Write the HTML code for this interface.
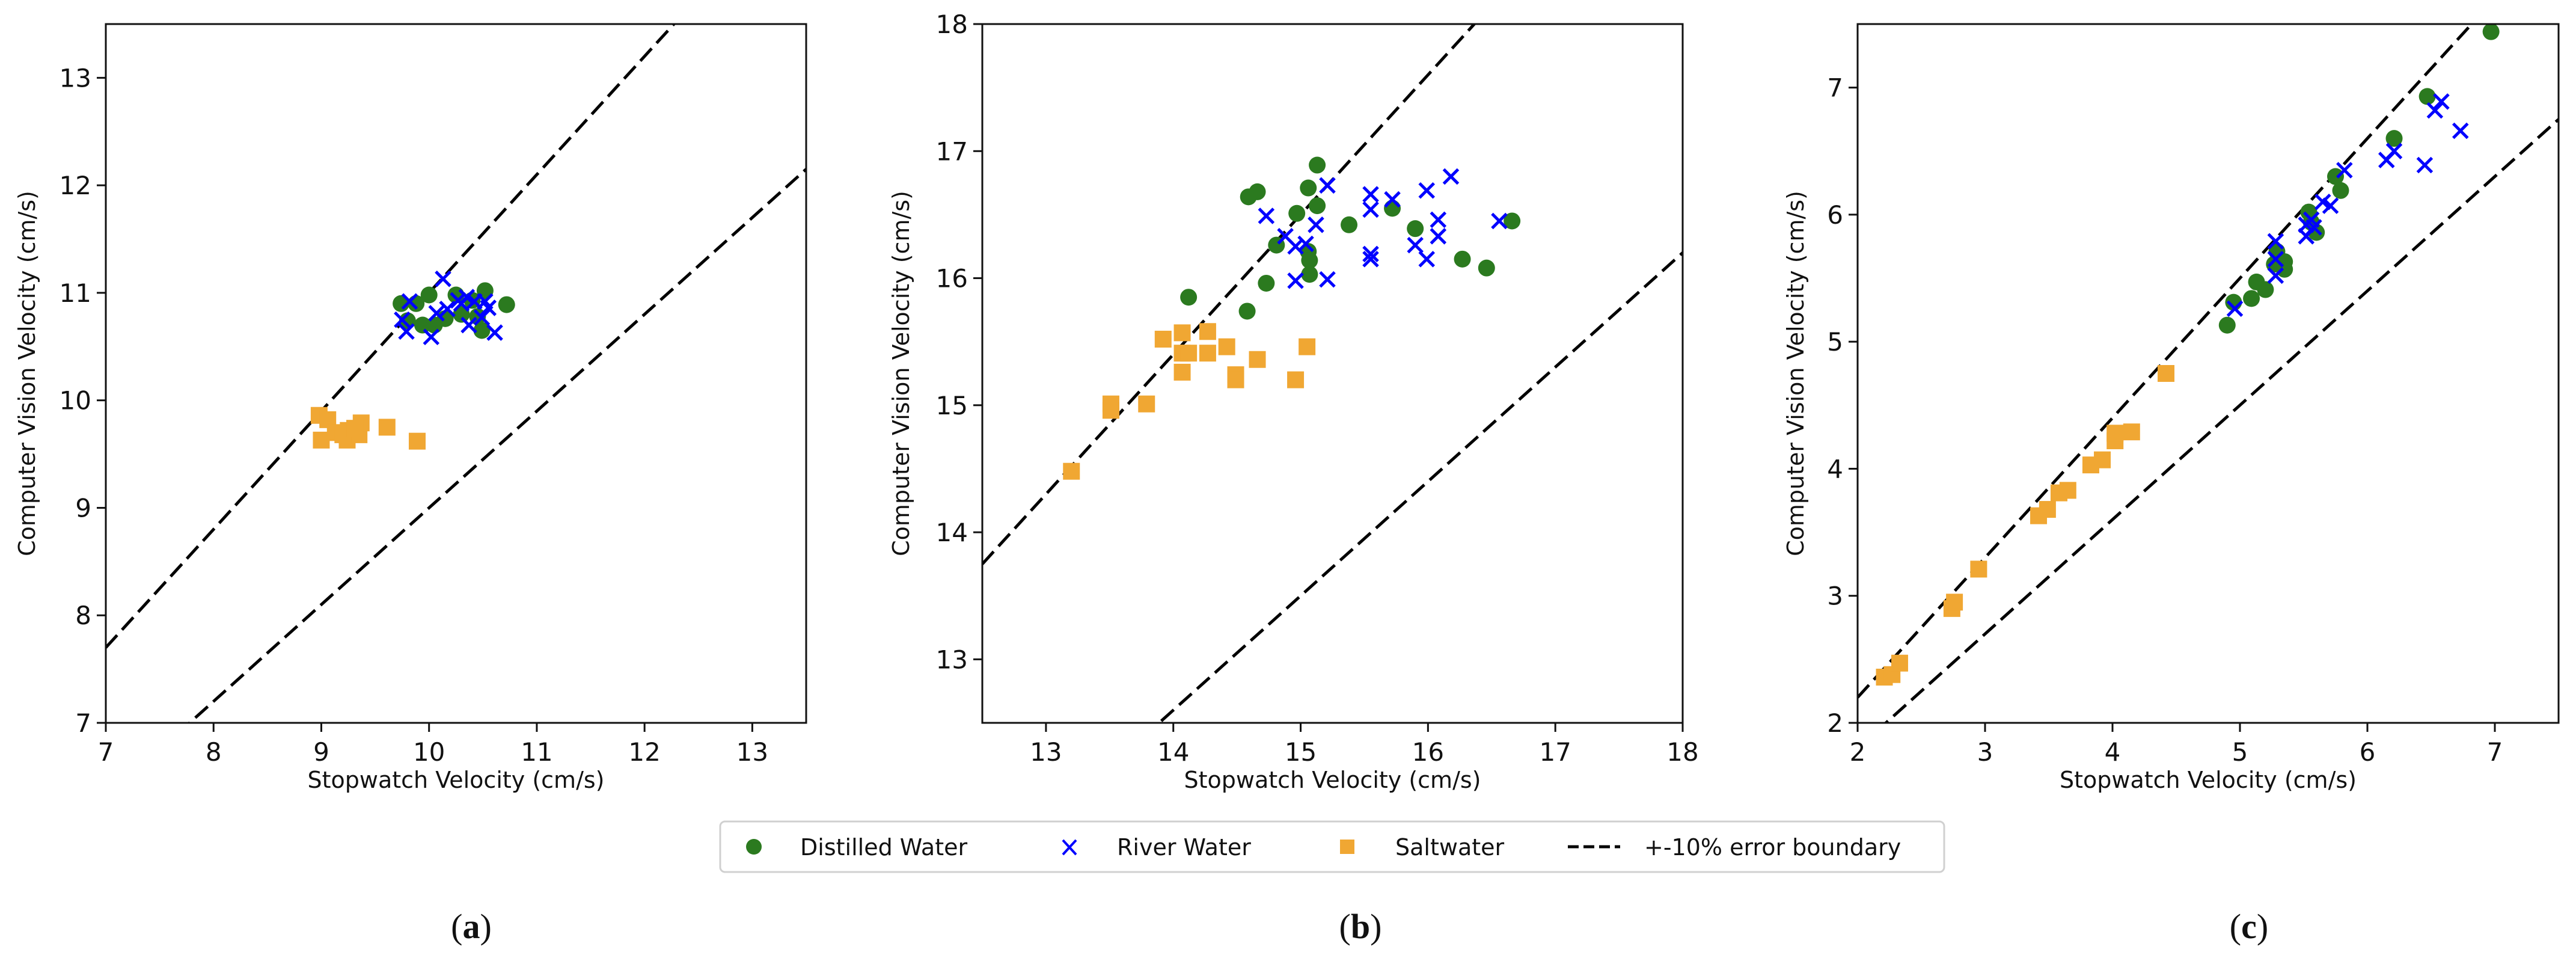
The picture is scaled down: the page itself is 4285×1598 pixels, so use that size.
<!DOCTYPE html>
<html><head><meta charset="utf-8"><style>
body{margin:0;background:#fff}
svg{display:block}
text{font-family:"DejaVu Sans","Liberation Sans",sans-serif;fill:#111}
</style></head><body>
<svg id="fig" width="4285" height="1598" viewBox="0 0 4285 1598" xmlns="http://www.w3.org/2000/svg"></svg>
<script>
// Panel (a)
const aDistX=[9.74,9.88,10.0,9.94,10.05,10.15,10.25,10.30,10.40,10.52,10.49,10.72,9.80,10.45];
const aDistY=[10.90,10.90,10.98,10.70,10.70,10.76,10.98,10.80,10.93,11.02,10.65,10.89,10.74,10.78];
const aRivX=[9.82,9.75,9.79,10.02,10.13,10.07,10.17,10.27,10.30,10.35,10.42,10.37,10.49,10.52,10.55,10.61];
const aRivY=[10.92,10.75,10.64,10.59,11.13,10.81,10.85,10.93,10.90,10.96,10.92,10.70,10.77,10.92,10.86,10.63];
const aSaltX=[8.98,9.06,9.0,9.13,9.24,9.25,9.35,9.37,9.61,9.89,9.2,9.31];
const aSaltY=[9.86,9.82,9.63,9.70,9.63,9.72,9.68,9.79,9.75,9.62,9.68,9.74];
const aTicks=[7,8,9,10,11,12,13];
// Panel (b)
const bDistX=[14.12,14.58,14.59,14.66,14.73,14.81,14.97,15.06,15.13,15.13,15.06,15.07,15.07,15.38,15.72,15.90,16.27,16.46,16.66];
const bDistY=[15.85,15.74,16.64,16.68,15.96,16.26,16.51,16.71,16.89,16.57,16.21,16.14,16.03,16.42,16.55,16.39,16.15,16.08,16.45];
const bRivX=[14.73,14.88,14.96,14.96,15.04,15.12,15.21,15.21,15.55,15.55,15.55,15.55,15.72,15.90,15.99,15.99,16.08,16.08,16.18,16.56];
const bRivY=[16.49,16.33,16.25,15.98,16.27,16.42,16.73,15.99,16.66,16.54,16.19,16.15,16.62,16.26,16.69,16.15,16.46,16.33,16.80,16.45];
const bSaltX=[13.2,13.51,13.51,13.79,13.92,14.07,14.07,14.07,14.12,14.27,14.27,14.42,14.49,14.49,14.66,14.96,15.05];
const bSaltY=[14.48,15.01,14.96,15.01,15.52,15.57,15.26,15.41,15.41,15.58,15.41,15.46,15.24,15.20,15.36,15.20,15.46];
const bTicks=[13,14,15,16,17,18];
// Panel (c)
const cDistX=[4.90,4.95,5.09,5.13,5.20,5.29,5.27,5.35,5.35,5.54,5.60,5.56,5.75,5.79,6.21,6.47,6.97];
const cDistY=[5.13,5.31,5.34,5.47,5.41,5.71,5.61,5.63,5.57,6.02,5.86,5.94,6.30,6.19,6.60,6.93,7.44];
const cRivX=[4.96,5.28,5.28,5.28,5.52,5.52,5.56,5.58,5.65,5.71,5.82,6.15,6.21,6.45,6.53,6.58,6.73];
const cRivY=[5.26,5.79,5.65,5.52,5.92,5.83,5.96,5.90,6.10,6.07,6.35,6.43,6.50,6.39,6.82,6.89,6.66];
const cSaltX=[2.21,2.27,2.33,2.74,2.76,2.95,3.42,3.49,3.58,3.65,3.83,3.92,4.02,4.02,4.15,4.42];
const cSaltY=[2.36,2.38,2.47,2.90,2.95,3.21,3.63,3.68,3.81,3.83,4.03,4.07,4.22,4.28,4.29,4.75];
const cTicks=[2,3,4,5,6,7];
const errHi=1.1, errLo=0.9;

const NS="http://www.w3.org/2000/svg";
const svg=document.getElementById('fig');
function mk(tag,attrs,parent){const e=document.createElementNS(NS,tag);for(const k in attrs)e.setAttribute(k,attrs[k]);(parent||svg).appendChild(e);return e;}
const GREEN="#2b7a1f",BLUE="#0000ff",ORANGE="#f0a733";

function panel(id,L,R,T,B,lo,hi,ticks,dX,dY,rX,rY,sX,sY,ytx,cap,capX){
  const g=mk('g',{});
  
  
  const sx=v=>L+(v-lo)/(hi-lo)*(R-L);
  const sy=v=>B-(v-lo)/(hi-lo)*(B-T);
  const clip=mk('clipPath',{id:'clip'+id},g);
  mk('rect',{x:L,y:T,width:R-L,height:B-T},clip);
  const plot=mk('g',{'clip-path':'url(#clip'+id+')'},g);
  [errHi,errLo].forEach((f,i)=>{
    const ln=mk('line',{x1:sx(lo),y1:sy(lo*f),x2:sx(hi),y2:sy(hi*f),stroke:'#000','stroke-width':5,'stroke-dasharray':'28 12'},plot);
    
    
  });
  dX.forEach((v,i)=>{const c=mk('circle',{cx:sx(v),cy:sy(dY[i]),r:14,fill:GREEN},plot);
    
    });
  rX.forEach((v,i)=>{const x=sx(v),y=sy(rY[i]),s=12;
    const p=mk('path',{d:`M${x-s},${y-s}L${x+s},${y+s}M${x-s},${y+s}L${x+s},${y-s}`,stroke:BLUE,'stroke-width':5,fill:'none'},plot);
    
    });
  sX.forEach((v,i)=>{const r=mk('rect',{x:sx(v)-14,y:sy(sY[i])-14,width:28,height:28,fill:ORANGE},plot);
    
    });
  const fr=mk('rect',{x:L,y:T,width:R-L,height:B-T,fill:'none',stroke:'#111','stroke-width':3},g);
  
  
  ticks.forEach(t=>{
    mk('line',{x1:sx(t),y1:B,x2:sx(t),y2:B+15,stroke:'#111','stroke-width':3},g);
    const tx=mk('text',{x:sx(t),y:B+63,'font-size':42,'text-anchor':'middle'},g);tx.textContent=t;
    
    
    mk('line',{x1:L-15,y1:sy(t),x2:L,y2:sy(t),stroke:'#111','stroke-width':3},g);
    const ty=mk('text',{x:L-24,y:sy(t)+15,'font-size':42,'text-anchor':'end'},g);ty.textContent=t;
    
    
  });
  const xl=mk('text',{x:(L+R)/2,y:1310,'font-size':38,'text-anchor':'middle'},g);xl.textContent='Stopwatch Velocity (cm/s)';
  
  
  const yl=mk('text',{x:0,y:0,'font-size':38,'text-anchor':'middle',transform:`translate(${ytx},${(T+B)/2}) rotate(-90)`},g);yl.textContent='Computer Vision Velocity (cm/s)';
  
  
  const cp=mk('text',{x:capX,y:1560,'font-size':58,'text-anchor':'middle',style:'font-family:"Liberation Serif",serif'},g);
  cp.innerHTML='(<tspan font-weight="bold">'+cap+'</tspan>)';
  
  
}
panel('a',176,1341,40,1202,7,13.5,aTicks,aDistX,aDistY,aRivX,aRivY,aSaltX,aSaltY,58,'a',784);
panel('b',1634,2799,40,1202,12.5,18,bTicks,bDistX,bDistY,bRivX,bRivY,bSaltX,bSaltY,1512,'b',2263);
panel('c',3090,4256,40,1202,2,7.5,cTicks,cDistX,cDistY,cRivX,cRivY,cSaltX,cSaltY,3000,'c',3741);

const lg=mk('g',{});


mk('rect',{x:1198,y:1366,width:2036,height:84,rx:8,fill:'#fff',stroke:'#d0d0d0','stroke-width':3},lg);
const c1=mk('circle',{cx:1254,cy:1408,r:13,fill:GREEN},lg);


mk('path',{d:'M1768,1397L1790,1421M1768,1421L1790,1397',stroke:BLUE,'stroke-width':4},lg);
mk('rect',{x:2229,y:1396,width:24,height:24,fill:ORANGE},lg);
mk('line',{x1:2608,y1:1408,x2:2695,y2:1408,stroke:'#000','stroke-width':5,'stroke-dasharray':'18 8'},lg);
[['Distilled Water',1331],['River Water',1858],['Saltwater',2321],['+-10% error boundary',2735]].forEach(([t,x])=>{
  const e=mk('text',{x:x,y:1422,'font-size':38},lg);e.textContent=t;
  
  
});
</script>
</body></html>
